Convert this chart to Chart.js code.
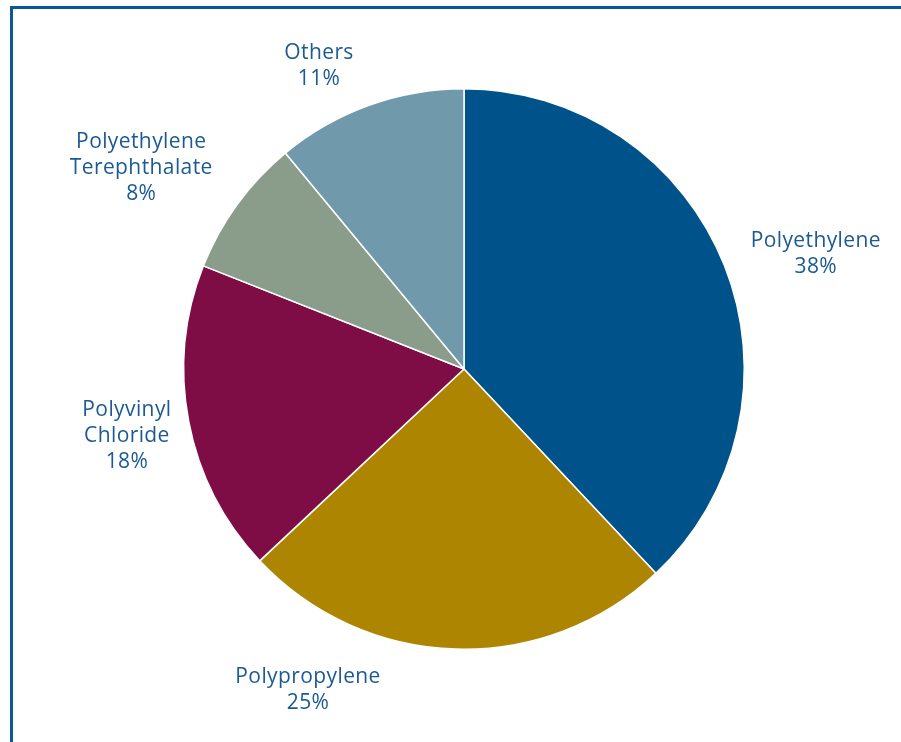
<!DOCTYPE html>
<html>
<head>
<meta charset="utf-8">
<script src="https://cdn.jsdelivr.net/npm/chart.js@4/dist/chart.umd.min.js"></script>
<style>
  html, body { margin: 0; padding: 0; background: #ffffff; }
  #wrap { position: relative; width: 901px; height: 742px; overflow: hidden; }
  #frame {
    position: absolute; left: 10px; top: 6px; right: -10px; bottom: -10px;
    border-top: 3px solid #0B5896; border-left: 3px solid #0B5896;
  }
  canvas { position: absolute; left: 0; top: 0; }
</style>
</head>
<body>
<div id="wrap">
  <div id="frame"></div>
  <canvas id="chart" width="901" height="742"></canvas>
</div>
<script>
// Plastic resin types by share
const categories = ['Polyethylene', 'Polypropylene', 'Polyvinyl Chloride', 'Polyethylene Terephthalate', 'Others'];
const shares = [38, 25, 18, 8, 11];
const labelLines = [
  ['Polyethylene'],
  ['Polypropylene'],
  ['Polyvinyl', 'Chloride'],
  ['Polyethylene', 'Terephthalate'],
  ['Others']
];
const sliceColors = ['#00538A', '#AD8500', '#7F0D45', '#8A9C8A', '#7099AB'];

// Nudges applied to each label after placing it beyond the slice edge
const labelNudge = [[28, 13], [-145, -27], [5, 2], [-41, 4], [-27, 25]];

const outsideLabels = {
  id: 'outsideLabels',
  afterDatasetsDraw(chart) {
    const ctx = chart.ctx;
    const meta = chart.getDatasetMeta(0);
    const ds = chart.data.datasets[0];
    ctx.save();
    ctx.font = '21px "Open Sans", Lato, sans-serif';
    if ('letterSpacing' in ctx) ctx.letterSpacing = '0.4px';
    ctx.fillStyle = '#1B5A92';
    ctx.textAlign = 'center';
    ctx.textBaseline = 'middle';
    const lineH = 26;
    meta.data.forEach((arc, i) => {
      const p = arc.getProps(['x', 'y', 'startAngle', 'endAngle', 'outerRadius'], true);
      const mid = (p.startAngle + p.endAngle) / 2;
      const r = p.outerRadius + 68;
      const cx = p.x + Math.cos(mid) * r + labelNudge[i][0];
      const cy = p.y + Math.sin(mid) * r + labelNudge[i][1];
      const lines = labelLines[i].concat([ds.data[i] + '%']);
      const top = cy - (lines.length - 1) * lineH / 2;
      lines.forEach((t, k) => ctx.fillText(t, cx, top + k * lineH));
    });
    ctx.restore();
  }
};

new Chart(document.getElementById('chart'), {
  type: 'pie',
  data: {
    labels: categories,
    datasets: [{
      data: shares,
      backgroundColor: sliceColors,
      borderColor: '#ffffff',
      borderWidth: 1.5
    }]
  },
  options: {
    responsive: false,
    animation: false,
    layout: { padding: { top: 88, bottom: 92, left: 183, right: 156 } },
    plugins: {
      legend: { display: false },
      tooltip: { enabled: false }
    }
  },
  plugins: [outsideLabels]
});
</script>
</body>
</html>
